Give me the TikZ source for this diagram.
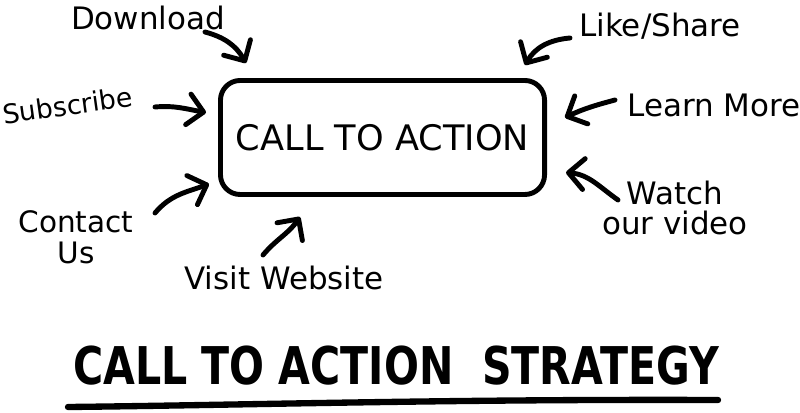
\documentclass[tikz,border=0pt]{standalone}
\usepackage{fontspec}
\setmainfont{DejaVu Sans}
\usepackage{tikz}
\usetikzlibrary{arrows.meta, positioning, calc}

\begin{document}
\begin{tikzpicture}[
    x=0.025cm, y=0.025cm,
    actionbox/.style={rectangle, rounded corners=14pt, minimum width=8.1cm, minimum height=2.85cm, inner sep=0pt, draw=black, line width=3.5pt, font=\fontsize{25}{28}\selectfont},
    lbl/.style={inner sep=0pt, font=\fontsize{22}{22}\selectfont, align=center},
    arrow/.style={-{Straight Barb[length=11pt, width=22pt, line width=3.5pt, round]}, line width=3.5pt, line cap=round}
]
\useasboundingbox (0,0) rectangle (800,413);

\node[actionbox] (action) at (382.5,275.5) {CALL TO ACTION};

\node[lbl, anchor=base] (download) at (148,383) {Download};
\node[lbl, anchor=base] (likeshare) at (660,376) {Like/Share};
\node[lbl, anchor=base, rotate=8, font=\fontsize{19}{22}\selectfont] (subscribe) at (69,298) {Subscribe};
\node[lbl, anchor=base] (learnmore) at (714,296) {Learn More};
\node[lbl, font=\fontsize{21}{22}\selectfont] (contact) at (76,176) {Contact\\Us};
\node[lbl] (watch) at (675,205) {Watch\\our video};
\node[lbl, anchor=base] (visit) at (284,123) {Visit Website};

\draw[arrow] ($(download.base)+(57,-2)$) to[out=-15, in=120] ($(action.north west)+(28,15)$);
\draw[arrow] ($(subscribe.base)+(86,8)$) to[out=5, in=170] ($(action.west)+(-12,25)$);
\draw[arrow] ($(contact)+(79,24)$) to[out=50, in=200] ($(action.south west)+(-9,13)$);
\draw[arrow] ($(visit.base)+(-21,35)$) to[out=50, in=235] ($(action.south west)+(82,-20)$);
\draw[arrow] ($(likeshare.base)+(-90,-1)$) to[out=185, in=60] ($(action.north east)+(-22,13)$);
\draw[arrow] ($(learnmore.base)+(-99,17)$) to[out=195, in=25] ($(action.east)+(18,20)$);
\draw[arrow] ($(watch)+(-57,8)$) to[out=145, in=-5] ($(action.east)+(19,-35)$);

\node[xscale=0.79, transform shape, font=\fontsize{37}{40}\selectfont\bfseries] (title) at (396,47) {CALL TO ACTION\hspace{0.35em} STRATEGY};
\draw[line width=4.5pt, line cap=round] (68,6) .. controls (250,8) and (450,14) .. (718,13);

\end{tikzpicture}
\end{document}
